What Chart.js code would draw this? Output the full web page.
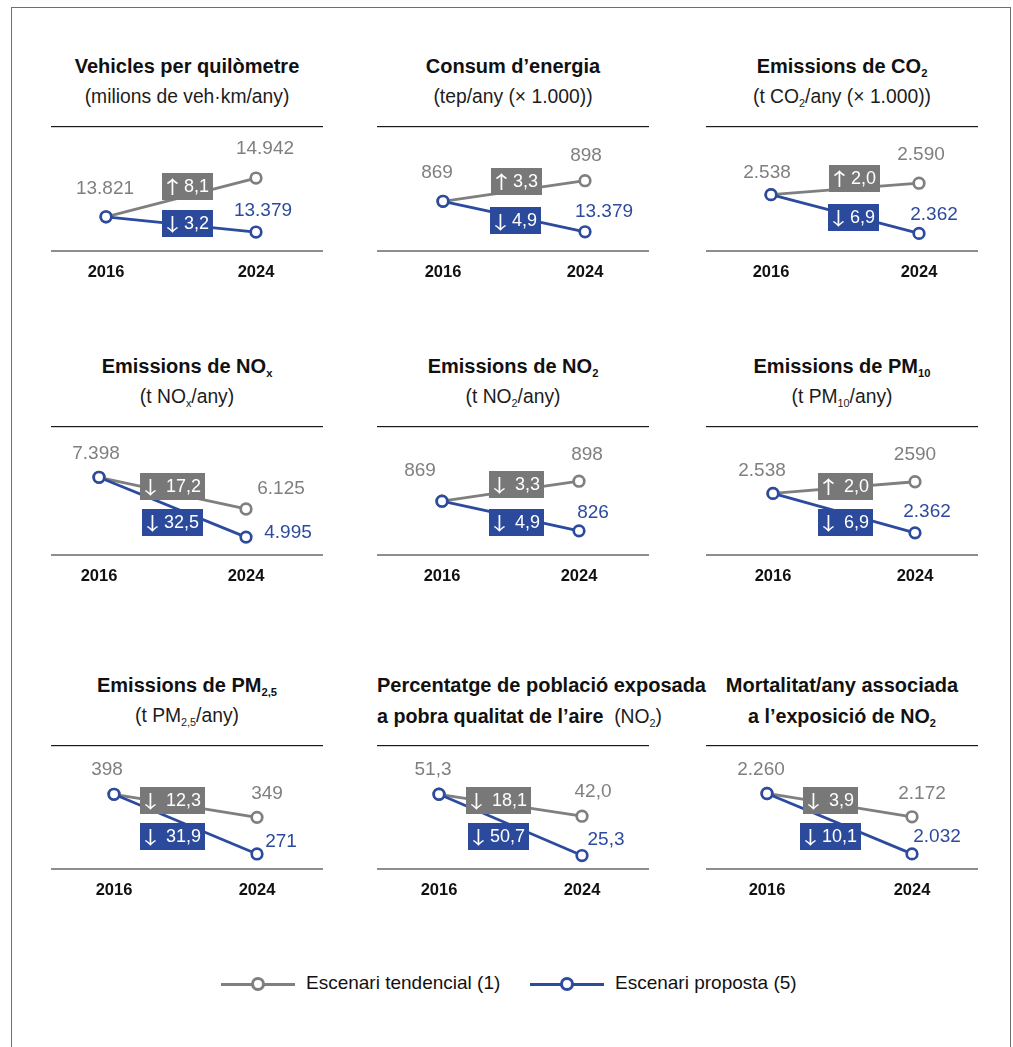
<!DOCTYPE html>
<html lang="ca">
<head>
<meta charset="utf-8">
<title>Escenaris 2016–2024: mobilitat, energia i qualitat de l’aire</title>
<script src="https://cdn.jsdelivr.net/npm/chart.js@4.4.1/dist/chart.umd.min.js"></script>
<style>
  html, body { margin: 0; padding: 0; background: #fff; }
  body { position: relative; width: 1013px; height: 1047px; overflow: hidden;
         font-family: "Liberation Sans", Arial, Helvetica, sans-serif; }
  .frame { position: absolute; left: 11px; top: 7px; width: 1000px; height: 1100px;
           border: 1px solid #6e6e6e; box-sizing: border-box; }
  .title, .subtitle { position: absolute; width: 272px; text-align: center; white-space: nowrap;
                      line-height: 20px; }
  .title { font-weight: bold; font-size: 20px; color: #111; }
  .subtitle { font-size: 19.3px; color: #1c1c1c; }
  .subtitle b { font-size: 19.7px; color: #111; }
  sub { font-size: 0.56em; line-height: 0; vertical-align: baseline; position: relative; top: 0.32em; }
  canvas { position: absolute; }
  .lg-line { position: absolute; height: 3px; }
  .lg-dot { position: absolute; width: 14px; height: 14px; border-radius: 50%; background: #fff;
            box-sizing: border-box; border: 3px solid; }
  .lg-text { position: absolute; font-size: 19px; line-height: 22px; color: #111; white-space: nowrap; }
</style>
</head>
<body>
<div class="frame"></div>
<script>
// ---- data -------------------------------------------------------------
const years = ['2016', '2024'];
const seriesNames = ['Escenari tendencial (1)', 'Escenari proposta (5)'];

const titles = [
  'Vehicles per quilòmetre',
  'Consum d’energia',
  'Emissions de CO<sub>2</sub>',
  'Emissions de NO<sub>x</sub>',
  'Emissions de NO<sub>2</sub>',
  'Emissions de PM<sub>10</sub>',
  'Emissions de PM<sub>2,5</sub>',
  'Percentatge de població exposada',
  'Mortalitat/any associada'
];
const subtitles = [
  '(milions de veh·km/any)',
  '(tep/any (× 1.000))',
  '(t CO<sub>2</sub>/any (× 1.000))',
  '(t NO<sub>x</sub>/any)',
  '(t NO<sub>2</sub>/any)',
  '(t PM<sub>10</sub>/any)',
  '(t PM<sub>2,5</sub>/any)',
  '<b>a pobra qualitat de l’aire</b>&nbsp;&nbsp;(NO<sub>2</sub>)',
  '<b>a l’exposició de NO<sub>2</sub></b>'
];

// 2016 and 2024 values of each scenario
const tendencial = [
  [13821, 14942], [869, 898], [2538, 2590],
  [7398, 6125], [869, 898], [2538, 2590],
  [398, 349], [51.3, 42.0], [2260, 2172]
];
const proposta = [
  [13821, 13379], [869, 826], [2538, 2362],
  [7398, 4995], [869, 826], [2538, 2362],
  [398, 271], [51.3, 25.3], [2260, 2032]
];

// printed value labels
const startText = ['13.821', '869', '2.538', '7.398', '869', '2.538', '398', '51,3', '2.260'];
const tendText  = ['14.942', '898', '2.590', '6.125', '898', '2590', '349', '42,0', '2.172'];
const propText  = ['13.379', '13.379', '2.362', '4.995', '826', '2.362', '271', '25,3', '2.032'];

// percentage change 2016 → 2024
const tendChange = ['↑8,1', '↑3,3', '↑2,0', '↓ 17,2', '↓ 3,3', '↑ 2,0', '↓ 12,3', '↓ 18,1', '↓ 3,9'];
const propChange = ['↓3,2', '↓4,9', '↓6,9', '↓32,5', '↓ 4,9', '↓ 6,9', '↓ 31,9', '↓50,7', '↓10,1'];

// value axis range of each panel
const yMin = [12830, 799, 2282, 4277, 791, 2263, 239, 19.6, 1975];
const yMax = [16450, 975, 2850, 9458, 978, 2839, 503, 72.2, 2443];

// ---- layout -----------------------------------------------------------
const GRAY = '#7f7f7f', GRAY_BOX = '#787878';
const BLUE = '#2d4b9e', BLUE_BOX = '#2c4a9c';
const FONT = '"Liberation Sans", Arial, Helvetica, sans-serif';
const ARROW_FONT = '"Noto Sans CJK JP", "Noto Sans CJK SC", "DejaVu Sans", sans-serif';
const ARROW_STRETCH = 1.3;     // horizontal widening of the arrow glyph
const ARROW_INK = 0.47;        // share of the arrow advance covered by its stroke
const colLeft = [51, 377, 706];
const rowTop = [126, 426, 745];
const rowBottom = [251, 555, 869];
const PANEL_W = 272, AXIS_H = 40, TOP_PAD = 2;

// horizontal inset of the 2016 / 2024 points inside each panel
const insetL = [55, 66, 65, 48, 65, 67, 63, 62, 61];
const insetR = [67, 64, 59, 77, 70, 63, 66, 67, 66];

// label offsets from their point, and box centres inside the panel
const labelPos = [
  { start: [-1, -28], tend: [9, -29],  prop: [7, -21],  box: [136, 60, 136, 97] },
  { start: [-6, -29], tend: [1, -25],  prop: [19, -20], box: [139, 55, 138.5, 94.5] },
  { start: [-4, -22], tend: [2, -28],  prop: [15, -19], box: [148, 52, 147, 91] },
  { start: [-3, -24], tend: [35, -20], prop: [42, -4],  box: [121.5, 60, 121.5, 96] },
  { start: [-22, -30], tend: [8, -26], prop: [14, -18], box: [139, 58, 139, 96] },
  { start: [-11, -23], tend: [0, -27], prop: [12, -21], box: [139, 60, 139, 96] },
  { start: [-7, -25], tend: [10, -24], prop: [24, -12], box: [121, 55, 121, 91] },
  { start: [-6, -25], tend: [11, -24], prop: [24, -16], box: [121, 55, 121.5, 91] },
  { start: [-6, -24], tend: [10, -23], prop: [25, -17], box: [124, 55, 124, 91] }
];

Chart.defaults.font.family = FONT;

// change box: a slightly widened arrow glyph followed by the percentage
function drawChangeBox(ctx, txt, cx, cy, fill) {
  const arrow = txt.charAt(0);
  const spaced = txt.charAt(1) === ' ';
  const num = txt.slice(1).trim();
  const arrowFont = '18px ' + ARROW_FONT, numFont = '18px ' + FONT;

  ctx.font = arrowFont;
  const aw = ctx.measureText(arrow).width * ARROW_STRETCH;
  const inkW = aw * ARROW_INK;
  const side = (aw - inkW) / 2;
  ctx.font = numFont;
  const nw = ctx.measureText(num).width;

  const padL = 5, padR = 3, gap = spaced ? 11 : 7;
  const w = Math.round(padL + inkW + gap + nw + padR);
  const x0 = Math.round(cx - w / 2);
  ctx.fillStyle = fill;
  ctx.fillRect(x0, Math.round(cy - 13.5), w, 27);

  ctx.fillStyle = '#fff';
  ctx.textAlign = 'left';
  ctx.textBaseline = 'middle';
  ctx.save();
  ctx.font = arrowFont;
  ctx.translate(x0 + padL - side, cy + 1.5);
  ctx.scale(ARROW_STRETCH, 1);
  ctx.fillText(arrow, 0, 0);
  ctx.restore();
  ctx.font = numFont;
  ctx.fillText(num, x0 + padL + inkW + gap - 1, cy + 1);
}

// rules above and below each plot, value labels and change boxes
const panelDecor = {
  id: 'panelDecor',
  beforeDatasetsDraw(chart) {
    const { ctx, chartArea } = chart;
    ctx.save();
    ctx.fillStyle = '#1a1a1a';
    ctx.fillRect(0, chartArea.top, chart.width, 1.2);
    ctx.fillStyle = '#727272';
    ctx.fillRect(0, chartArea.bottom - 0.8, chart.width, 1.6);
    ctx.restore();
  },
  afterDatasetsDraw(chart, args, opts) {
    const i = opts.index;
    const L = labelPos[i];
    const { ctx, chartArea } = chart;
    const g = chart.getDatasetMeta(0).data;
    const b = chart.getDatasetMeta(1).data;
    ctx.save();
    drawChangeBox(ctx, tendChange[i], L.box[0], chartArea.top + L.box[1], GRAY_BOX);
    drawChangeBox(ctx, propChange[i], L.box[2], chartArea.top + L.box[3], BLUE_BOX);

    // value labels
    ctx.textAlign = 'center';
    ctx.textBaseline = 'middle';
    ctx.font = '19px ' + FONT;
    ctx.fillStyle = GRAY;
    ctx.fillText(startText[i], g[0].x + L.start[0], g[0].y + L.start[1]);
    ctx.fillText(tendText[i], g[1].x + L.tend[0], g[1].y + L.tend[1]);
    ctx.fillStyle = BLUE;
    ctx.fillText(propText[i], b[1].x + L.prop[0], b[1].y + L.prop[1]);
    ctx.restore();
  }
};

const series = (label, data, color, order) => ({
  label, data, order,
  borderColor: color, borderWidth: 2.8,
  pointRadius: 5.3, pointBorderWidth: 2.7,
  pointBackgroundColor: '#fff', pointBorderColor: color,
  pointHoverRadius: 5.3, tension: 0, clip: false
});

titles.forEach((title, i) => {
  const col = i % 3, row = Math.floor(i / 3);
  const left = colLeft[col];

  const t = document.createElement('div');
  t.className = 'title';
  t.style.left = left + 'px';
  t.style.top = (rowTop[row] - 53 - 17) + 'px';
  t.innerHTML = title;
  document.body.appendChild(t);

  const s = document.createElement('div');
  s.className = 'subtitle';
  s.style.left = left + 'px';
  s.style.top = (rowTop[row] - 22 - 16.7) + 'px';
  s.innerHTML = subtitles[i];
  document.body.appendChild(s);

  const h = rowBottom[row] - rowTop[row] + TOP_PAD + AXIS_H;
  const canvas = document.createElement('canvas');
  canvas.width = PANEL_W;
  canvas.height = h;
  canvas.style.left = left + 'px';
  canvas.style.top = (rowTop[row] - TOP_PAD) + 'px';
  canvas.style.width = PANEL_W + 'px';
  canvas.style.height = h + 'px';
  document.body.appendChild(canvas);

  new Chart(canvas, {
    type: 'line',
    data: {
      labels: years,
      datasets: [
        series(seriesNames[0], tendencial[i], GRAY, 1),
        series(seriesNames[1], proposta[i], BLUE, 0)
      ]
    },
    options: {
      responsive: false,
      animation: false,
      events: [],
      devicePixelRatio: 1,
      layout: {
        autoPadding: false,
        padding: { top: TOP_PAD, bottom: 0, left: insetL[i], right: insetR[i] }
      },
      scales: {
        x: {
          type: 'category',
          offset: false,
          grid: { display: false, drawTicks: false },
          border: { display: false },
          ticks: {
            color: '#111', padding: 12, autoSkip: false, maxRotation: 0,
            font: { family: FONT, size: 16.5, weight: 'bold' }
          },
          afterFit(scale) { scale.height = AXIS_H; scale.paddingLeft = 0; scale.paddingRight = 0; }
        },
        y: { display: false, min: yMin[i], max: yMax[i] }
      },
      plugins: {
        legend: { display: false },
        tooltip: { enabled: false },
        panelDecor: { index: i }
      }
    },
    plugins: [panelDecor]
  });
});

// legend
const legendItems = [
  { x: 221, textX: 306, color: GRAY },
  { x: 530, textX: 615, color: BLUE }
];
const LEGEND_Y = 984;
legendItems.forEach((it, k) => {
  const line = document.createElement('div');
  line.className = 'lg-line';
  line.style.left = it.x + 'px';
  line.style.top = (LEGEND_Y - 1.5) + 'px';
  line.style.width = '74px';
  line.style.background = it.color;
  document.body.appendChild(line);

  const dot = document.createElement('div');
  dot.className = 'lg-dot';
  dot.style.left = (it.x + 37 - 7) + 'px';
  dot.style.top = (LEGEND_Y - 7) + 'px';
  dot.style.borderColor = it.color;
  document.body.appendChild(dot);

  const txt = document.createElement('div');
  txt.className = 'lg-text';
  txt.style.left = it.textX + 'px';
  txt.style.top = (LEGEND_Y - 12.5) + 'px';
  txt.textContent = seriesNames[k];
  document.body.appendChild(txt);
});
</script>
</body>
</html>
